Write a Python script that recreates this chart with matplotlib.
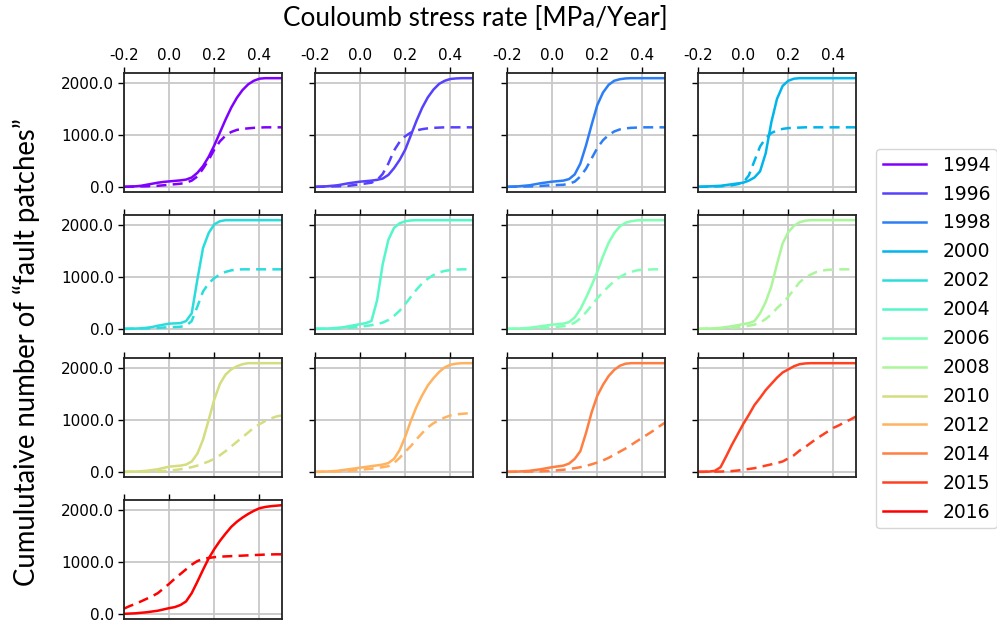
import matplotlib
matplotlib.use("Agg")
import matplotlib.pyplot as plt
import numpy as np

x = [-0.2, -0.175, -0.15, -0.125, -0.1, -0.075, -0.05, -0.025, 0.0, 0.025, 0.05, 0.075,
     0.1, 0.125, 0.15, 0.175, 0.2, 0.225, 0.25, 0.275, 0.3, 0.325, 0.35, 0.375, 0.4,
     0.425, 0.45, 0.475, 0.5]

years = ["1994", "1996", "1998", "2000", "2002", "2004", "2006", "2008", "2010",
         "2012", "2014", "2015", "2016"]

solid_1994 = [0, 5, 10, 20, 40, 60, 80, 95, 105, 115, 125, 140, 180, 270, 400, 580, 800, 1050, 1300, 1530, 1720, 1870, 1980, 2050, 2090, 2100, 2100, 2100, 2100]
dash_1994 = [0, 2, 5, 8, 10, 15, 20, 30, 40, 50, 60, 80, 120, 200, 350, 520, 720, 880, 990, 1060, 1100, 1120, 1130, 1140, 1145, 1150, 1150, 1150, 1150]

solid_1996 = [0, 5, 10, 20, 30, 50, 70, 85, 100, 110, 120, 135, 160, 230, 360, 520, 720, 1000, 1280, 1530, 1730, 1880, 1990, 2050, 2085, 2095, 2100, 2100, 2100]
dash_1996 = [0, 2, 5, 8, 10, 15, 20, 35, 50, 65, 80, 130, 250, 450, 700, 870, 980, 1050, 1090, 1115, 1130, 1140, 1145, 1150, 1150, 1150, 1150, 1150, 1150]

solid_1998 = [0, 5, 10, 20, 30, 50, 70, 85, 100, 110, 120, 150, 240, 450, 800, 1200, 1580, 1820, 1970, 2050, 2080, 2095, 2100, 2100, 2100, 2100, 2100, 2100, 2100]
dash_1998 = [0, 2, 4, 6, 8, 12, 18, 25, 30, 35, 40, 60, 100, 200, 350, 550, 750, 900, 1000, 1070, 1110, 1130, 1140, 1145, 1150, 1150, 1150, 1150, 1150]

solid_2000 = [0, 5, 10, 15, 20, 35, 50, 65, 80, 120, 180, 300, 650, 1250, 1700, 1950, 2050, 2090, 2100, 2100, 2100, 2100, 2100, 2100, 2100, 2100, 2100, 2100, 2100]
dash_2000 = [0, 2, 4, 7, 10, 20, 30, 50, 80, 220, 500, 780, 940, 1040, 1090, 1120, 1135, 1140, 1145, 1150, 1150, 1150, 1150, 1150, 1150, 1150, 1150, 1150, 1150]

solid_2002 = [0, 2, 5, 10, 20, 35, 60, 80, 100, 105, 110, 150, 300, 950, 1560, 1850, 2020, 2080, 2100, 2100, 2100, 2100, 2100, 2100, 2100, 2100, 2100, 2100, 2100]
dash_2002 = [0, 2, 4, 6, 8, 12, 18, 25, 30, 35, 40, 60, 150, 430, 720, 880, 980, 1050, 1100, 1130, 1145, 1150, 1150, 1150, 1150, 1150, 1150, 1150, 1150]

solid_2004 = [0, 3, 6, 10, 20, 30, 50, 70, 90, 110, 150, 550, 1250, 1720, 1950, 2040, 2080, 2095, 2100, 2100, 2100, 2100, 2100, 2100, 2100, 2100, 2100, 2100, 2100]
dash_2004 = [0, 2, 4, 6, 10, 15, 20, 30, 40, 55, 70, 95, 120, 170, 250, 350, 480, 620, 760, 880, 970, 1040, 1090, 1120, 1135, 1145, 1150, 1150, 1150]

solid_2006 = [0, 3, 6, 12, 20, 35, 50, 65, 80, 90, 100, 130, 220, 380, 600, 840, 1100, 1400, 1660, 1850, 1980, 2050, 2080, 2095, 2100, 2100, 2100, 2100, 2100]
dash_2006 = [0, 2, 4, 6, 8, 12, 16, 22, 30, 40, 50, 70, 120, 200, 320, 450, 590, 710, 820, 920, 1000, 1060, 1100, 1130, 1140, 1145, 1150, 1150, 1150]

solid_2008 = [0, 3, 6, 12, 20, 35, 50, 70, 90, 110, 150, 300, 520, 820, 1250, 1650, 1870, 1990, 2060, 2090, 2100, 2100, 2100, 2100, 2100, 2100, 2100, 2100, 2100]
dash_2008 = [0, 2, 4, 6, 8, 12, 18, 28, 40, 60, 80, 120, 190, 280, 400, 500, 620, 760, 900, 990, 1050, 1100, 1125, 1140, 1145, 1150, 1150, 1150, 1150]

solid_2010 = [0, 3, 6, 12, 20, 35, 50, 75, 100, 110, 120, 140, 200, 350, 620, 1000, 1400, 1700, 1880, 1980, 2040, 2080, 2100, 2100, 2100, 2100, 2100, 2100, 2100]
dash_2010 = [0, 1, 2, 3, 5, 8, 10, 15, 20, 35, 50, 70, 90, 120, 160, 200, 250, 320, 400, 490, 580, 670, 760, 850, 920, 980, 1030, 1070, 1090]

solid_2012 = [0, 3, 6, 12, 20, 35, 50, 65, 80, 95, 110, 125, 140, 170, 250, 420, 680, 990, 1260, 1480, 1670, 1810, 1930, 2020, 2070, 2090, 2100, 2100, 2100]
dash_2012 = [0, 2, 4, 6, 8, 12, 18, 28, 40, 50, 60, 75, 90, 110, 170, 270, 390, 500, 630, 750, 860, 940, 1000, 1050, 1090, 1110, 1120, 1130, 1140]

solid_2014 = [0, 3, 6, 12, 20, 35, 50, 70, 90, 105, 120, 160, 250, 400, 750, 1150, 1470, 1680, 1850, 1970, 2050, 2090, 2100, 2100, 2100, 2100, 2100, 2100, 2100]
dash_2014 = [0, 1, 2, 3, 5, 7, 10, 15, 20, 30, 40, 55, 70, 90, 115, 145, 180, 220, 270, 330, 390, 450, 520, 590, 660, 730, 800, 880, 950]

solid_2015 = [0, 0, 5, 20, 90, 300, 520, 720, 920, 1100, 1290, 1430, 1580, 1700, 1820, 1920, 1980, 2040, 2080, 2095, 2100, 2100, 2100, 2100, 2100, 2100, 2100, 2100, 2100]
dash_2015 = [0, 1, 2, 3, 5, 10, 15, 25, 40, 55, 70, 95, 120, 145, 170, 200, 260, 320, 410, 480, 560, 640, 710, 780, 850, 900, 960, 1010, 1070]

solid_2016 = [0, 5, 10, 20, 30, 45, 60, 85, 110, 130, 170, 240, 400, 620, 850, 1070, 1250, 1410, 1550, 1680, 1780, 1860, 1930, 1990, 2040, 2065, 2080, 2090, 2100]
dash_2016 = [100, 150, 190, 240, 290, 340, 400, 490, 580, 680, 770, 860, 950, 1020, 1060, 1080, 1095, 1105, 1110, 1115, 1120, 1125, 1130, 1135, 1140, 1145, 1148, 1150, 1150]

solids = [solid_1994, solid_1996, solid_1998, solid_2000, solid_2002, solid_2004, solid_2006,
          solid_2008, solid_2010, solid_2012, solid_2014, solid_2015, solid_2016]
dashes = [dash_1994, dash_1996, dash_1998, dash_2000, dash_2002, dash_2004, dash_2006,
          dash_2008, dash_2010, dash_2012, dash_2014, dash_2015, dash_2016]

xticks = [-0.2, 0.0, 0.2, 0.4]
yticks = [0, 1000, 2000]

W, H = 997, 624
fig = plt.figure(figsize=(W / 100, H / 100), dpi=100)

col_left = [124, 315, 507, 698]
row_top = [73, 215, 358, 500]
aw, ah = 158, 119

colors = plt.cm.rainbow(np.linspace(0, 1, len(years)))
handles = []
for i, yr in enumerate(years):
    r, c = divmod(i, 4)
    ax = fig.add_axes([col_left[c] / W, 1 - (row_top[r] + ah) / H, aw / W, ah / H])
    h, = ax.plot(x, solids[i], color=colors[i], lw=1.8, label=yr)
    ax.plot(x, dashes[i], color=colors[i], lw=1.8, ls=(0, (4, 2.5)))
    handles.append(h)
    ax.set_xlim(-0.2, 0.5)
    ax.set_ylim(-100, 2200)
    ax.set_xticks(xticks)
    ax.set_yticks(yticks)
    ax.grid(True, color="#c8c8c8", lw=1.3)
    ax.set_axisbelow(True)
    ax.xaxis.tick_top()
    ax.tick_params(axis="both", direction="out", length=4, width=1, labelsize=11,
                   colors="black")
    ax.tick_params(axis="x", top=True, bottom=False, labeltop=(r == 0), labelbottom=False, pad=3)
    ax.tick_params(axis="y", left=True, right=False, labelleft=(c == 0), pad=3)
    ax.yaxis.set_major_formatter(matplotlib.ticker.FormatStrFormatter("%.1f"))
    ax.xaxis.set_major_formatter(matplotlib.ticker.FormatStrFormatter("%.1f"))
    for s in ax.spines.values():
        s.set_linewidth(1.3)
        s.set_color("#222222")

fig.text(475 / W, 1 - 19 / H, "Couloumb stress rate [MPa/Year]", ha="center", va="center",
         fontsize=18.8, family=["Lato", "DejaVu Sans"])
fig.text(26 / W, 1 - 352 / H, "Cumulutaive number of \u201cfault patches\u201d", ha="center",
         va="center", rotation=90, fontsize=19.8, family=["Lato", "DejaVu Sans"])

fig.legend(handles=handles, labels=years, loc="upper left",
           bbox_to_anchor=(876 / W, 1 - 149 / H), borderaxespad=0, fontsize=13.5,
           frameon=True, labelspacing=0.53, handlelength=2.3, handletextpad=0.9,
           borderpad=0.35, fancybox=True, edgecolor="#cccccc")

fig.savefig("out.png", dpi=100)
